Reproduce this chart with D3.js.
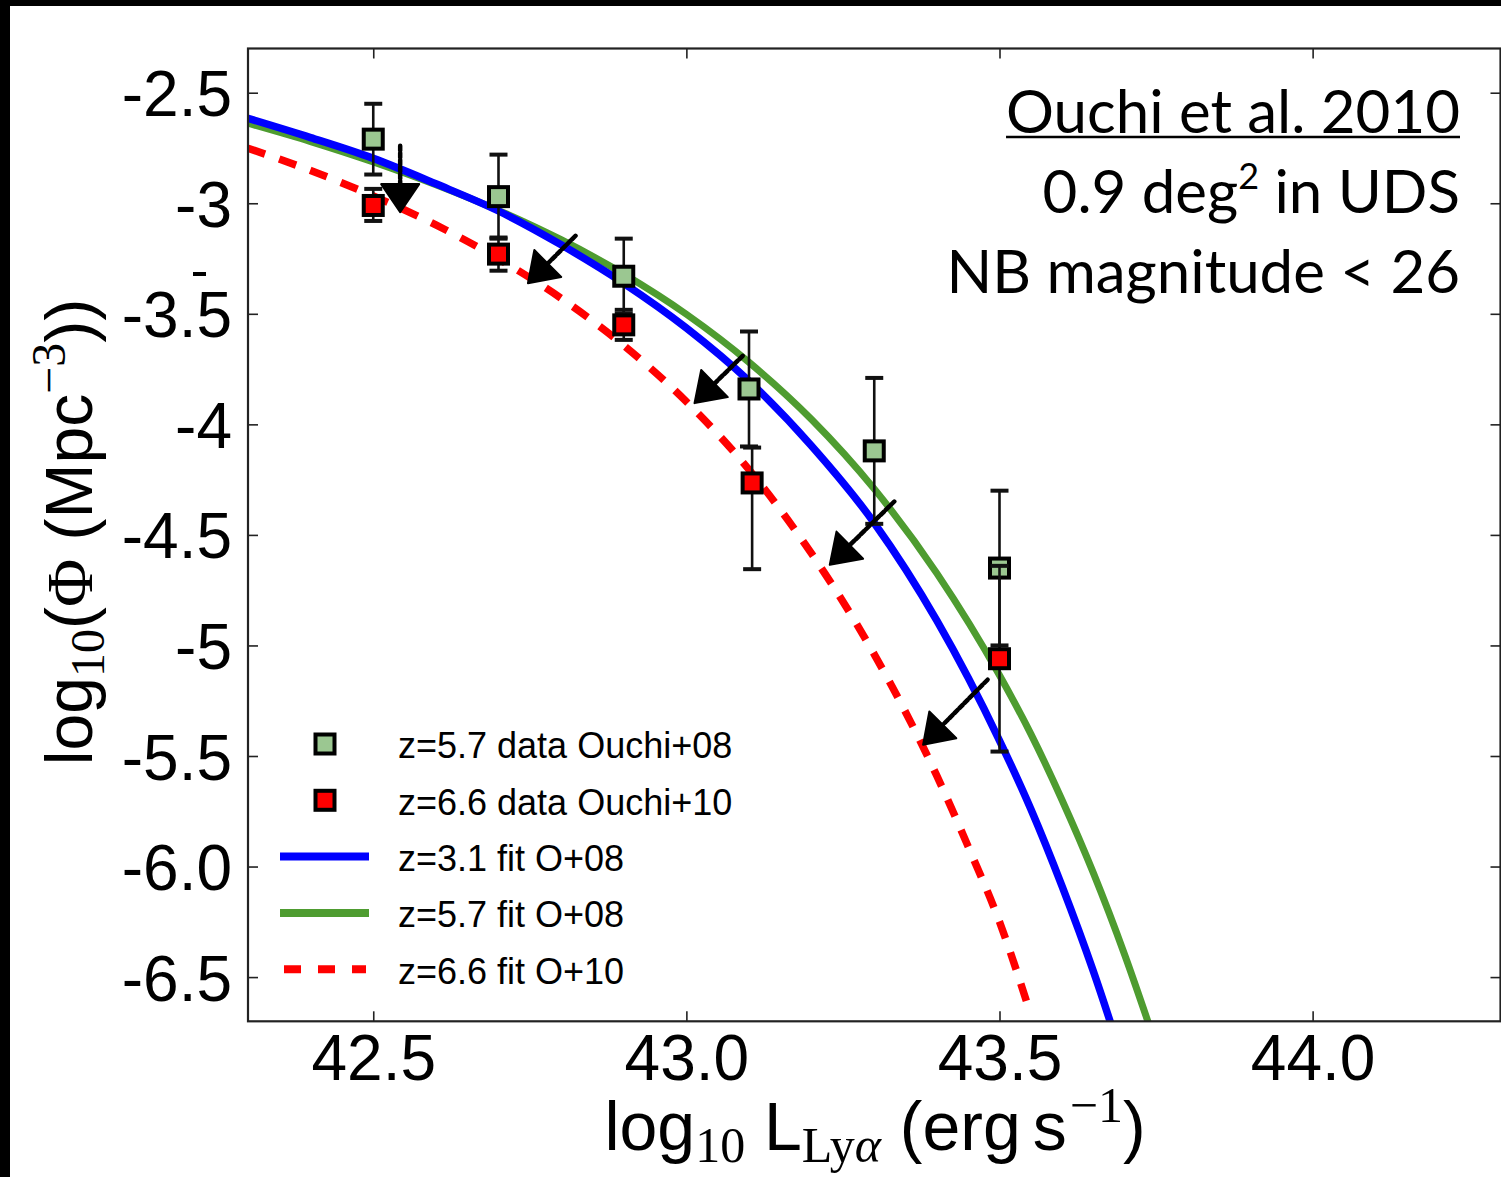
<!DOCTYPE html>
<html>
<head>
<meta charset="utf-8">
<script src="https://cdn.jsdelivr.net/npm/d3@7"></script>
<style>
  html, body { margin: 0; padding: 0; background: #ffffff; }
  svg { display: block; }
</style>
</head>
<body>
<svg id="chart" width="1501" height="1177"></svg>
<script>
// ---- Axis ticks ----
const xTicks = [42.5, 43.0, 43.5, 44.0];
const xTickLabels = ["42.5", "43.0", "43.5", "44.0"];
const yTicks = [-2.5, -3, -3.5, -4, -4.5, -5, -5.5, -6, -6.5];
const yTickLabels = ["-2.5", "-3", "-3.5", "-4", "-4.5", "-5", "-5.5", "-6.0", "-6.5"];

// ---- Schechter fit curves (log10 L, log10 Phi) ----
const fitZ31X = [42.30, 42.40, 42.50, 42.60, 42.70, 42.80, 42.90, 43.00, 43.10, 43.20, 43.30, 43.40, 43.50, 43.55, 43.60, 43.65, 43.70];
const fitZ31Y = [-2.616, -2.703, -2.797, -2.912, -3.035, -3.188, -3.362, -3.564, -3.804, -4.098, -4.446, -4.888, -5.430, -5.740, -6.090, -6.475, -6.905];

const fitZ57X = [42.30, 42.40, 42.50, 42.60, 42.70, 42.80, 42.90, 43.00, 43.10, 43.20, 43.30, 43.40, 43.50, 43.55, 43.60, 43.65, 43.70, 43.75];
const fitZ57Y = [-2.638, -2.721, -2.813, -2.916, -3.032, -3.165, -3.320, -3.502, -3.719, -3.978, -4.292, -4.674, -5.135, -5.400, -5.700, -6.030, -6.400, -6.810];

const fitZ66X = [42.30, 42.40, 42.50, 42.60, 42.70, 42.80, 42.90, 43.00, 43.10, 43.20, 43.30, 43.40, 43.45, 43.50, 43.55];
const fitZ66Y = [-2.751, -2.852, -2.967, -3.098, -3.251, -3.430, -3.643, -3.897, -4.205, -4.585, -5.040, -5.590, -5.910, -6.250, -6.670];

// ---- Measured luminosity functions ----
const lumZ57 = [42.5, 42.7, 42.9, 43.1, 43.3, 43.5];
const phiZ57 = [-2.71, -2.97, -3.33, -3.84, -4.12, -4.65];
const errZ57Hi = [0.16, 0.19, 0.17, 0.26, 0.33, 0.35];
const errZ57Lo = [0.16, 0.19, 0.17, 0.26, 0.33, 0.35];

const lumZ66 = [42.5, 42.7, 42.9, 43.105, 43.5];
const phiZ66 = [-3.01, -3.23, -3.55, -4.265, -5.06];
const errZ66Hi = [0.075, 0.075, 0.068, 0.16, 0.42];
const errZ66Lo = [0.070, 0.075, 0.068, 0.39, 0.42];

// ---- Evolution arrows: from z=5.7 towards z=6.6 (log L, log Phi) ----
const arrowFrom = [[42.543, -2.740], [42.823, -3.147], [43.090, -3.690], [43.332, -4.349], [43.481, -5.155]];
const arrowTo   = [[42.543, -3.040], [42.747, -3.362], [43.013, -3.904], [43.229, -4.635], [43.378, -5.449]];

// ---- Legend ----
const legendLabels = ["z=5.7 data Ouchi+08", "z=6.6 data Ouchi+10", "z=3.1 fit O+08", "z=5.7 fit O+08", "z=6.6 fit O+10"];
const legendKinds = ["square", "square", "line", "line", "line"];

// ---- Styles ----
const BLUE = "#0000ff", GREEN = "#4e9c30", RED = "#ff0000", LIGHTGREEN = "#9bc791";
const SANS = "'Liberation Sans', Arial, Helvetica, sans-serif";
const SERIF = "'Liberation Serif', 'DejaVu Serif', serif";
const NOTE = "Lato, 'Open Sans', sans-serif";

const svg = d3.select("#chart");
svg.append("rect").attr("width", 1501).attr("height", 1177).attr("fill", "#ffffff");

// black frame on the top and left edges
svg.append("rect").attr("x", 0).attr("y", 0).attr("width", 1501).attr("height", 6).attr("fill", "#000");
svg.append("rect").attr("x", 0).attr("y", 0).attr("width", 10).attr("height", 1177).attr("fill", "#000");

const x = d3.scaleLinear().domain([42.3, 44.3]).range([248, 1500.5]);
const y = d3.scaleLinear().domain([-6.7, -2.3]).range([1021.3, 48.5]);

const [x0, x1] = x.range();
const [y0, y1] = y.range();

svg.append("clipPath").attr("id", "plotClip")
  .append("rect").attr("x", x0).attr("y", y1).attr("width", x1 - x0).attr("height", y0 - y1);

// ---- Axes (ticks point inward on all four sides) ----
const axisColor = "#222";
const gx = svg.append("g").attr("transform", `translate(0,${y0})`)
  .call(d3.axisBottom(x).tickValues(xTicks).tickFormat((d, i) => xTickLabels[i]).tickSizeInner(-10).tickSizeOuter(0));
gx.selectAll("text").attr("y", 59).attr("dy", 0)
  .attr("font-family", SANS).attr("font-size", 64).attr("fill", "#000");

const gxTop = svg.append("g").attr("transform", `translate(0,${y1})`)
  .call(d3.axisTop(x).tickValues(xTicks).tickFormat("").tickSizeInner(-10).tickSizeOuter(0));

const gy = svg.append("g").attr("transform", `translate(${x0},0)`)
  .call(d3.axisLeft(y).tickValues(yTicks).tickFormat((d, i) => yTickLabels[i]).tickSizeInner(-10).tickSizeOuter(0).tickPadding(16));
gy.selectAll("text").attr("dy", "0.36em")
  .attr("font-family", SANS).attr("font-size", 64).attr("fill", "#000");

const gyRight = svg.append("g").attr("transform", `translate(${x1},0)`)
  .call(d3.axisRight(y).tickValues(yTicks).tickFormat("").tickSizeInner(-10).tickSizeOuter(0));

[gx, gxTop, gy, gyRight].forEach(g => {
  g.select(".domain").remove();
  g.selectAll(".tick line").attr("stroke", axisColor).attr("stroke-width", 1.6);
});

// ---- Fit curves (z=5.7 underneath z=3.1) ----
const curves = svg.append("g").attr("clip-path", "url(#plotClip)");
const line = d3.line().x(d => x(d[0])).y(d => y(d[1])).curve(d3.curveMonotoneX);
const zip = (a, b) => a.map((v, i) => [v, b[i]]);

curves.append("path").datum(zip(fitZ57X, fitZ57Y)).attr("d", line)
  .attr("fill", "none").attr("stroke", GREEN).attr("stroke-width", 7);
curves.append("path").datum(zip(fitZ31X, fitZ31Y)).attr("d", line)
  .attr("fill", "none").attr("stroke", BLUE).attr("stroke-width", 7.5);
curves.append("path").datum(zip(fitZ66X, fitZ66Y)).attr("d", line)
  .attr("fill", "none").attr("stroke", RED).attr("stroke-width", 7.5)
  .attr("stroke-dasharray", "18,15");

// ---- Data points with error bars ----
const MS = 19, CAP = 9;
function drawSeries(lum, phi, hi, lo, fill) {
  const g = svg.append("g");
  lum.forEach((L, i) => {
    const cx = x(L);
    const yTop = y(phi[i] + hi[i]), yBot = y(phi[i] - lo[i]);
    g.append("line").attr("x1", cx).attr("x2", cx).attr("y1", yTop).attr("y2", yBot)
      .attr("stroke", "#111").attr("stroke-width", 2.6);
    [yTop, yBot].forEach(yy => {
      g.append("line").attr("x1", cx - CAP).attr("x2", cx + CAP).attr("y1", yy).attr("y2", yy)
        .attr("stroke", "#111").attr("stroke-width", 4);
    });
  });
  lum.forEach((L, i) => {
    g.append("rect").attr("x", x(L) - MS / 2).attr("y", y(phi[i]) - MS / 2)
      .attr("width", MS).attr("height", MS)
      .attr("fill", fill).attr("stroke", "#000").attr("stroke-width", 4);
  });
}
drawSeries(lumZ57, phiZ57, errZ57Hi, errZ57Lo, LIGHTGREEN);
drawSeries(lumZ66, phiZ66, errZ66Hi, errZ66Lo, RED);

// ---- Arrows ----
const arrows = svg.append("g");
arrowFrom.forEach((p, i) => {
  const sx = x(p[0]), sy = y(p[1]);
  const tx = x(arrowTo[i][0]), ty = y(arrowTo[i][1]);
  const dx = tx - sx, dy = ty - sy, len = Math.hypot(dx, dy);
  const ux = dx / len, uy = dy / len;
  const headLen = 28, headHalf = 19;
  const bx = tx - ux * headLen, by = ty - uy * headLen;
  arrows.append("line").attr("x1", sx).attr("y1", sy).attr("x2", bx).attr("y2", by)
    .attr("stroke", "#000").attr("stroke-width", 4.5)
    .attr("stroke-dasharray", "5,2").attr("stroke-linecap", "round");
  const pts = [[tx, ty], [bx - uy * headHalf, by + ux * headHalf], [bx + uy * headHalf, by - ux * headHalf]];
  arrows.append("path").attr("d", "M" + pts.map(q => q.join(",")).join("L") + "Z")
    .attr("fill", "#000").attr("stroke", "#000").attr("stroke-width", 2).attr("stroke-linejoin", "round");
});

// ---- Plot frame ----
svg.append("rect").attr("x", x0).attr("y", y1).attr("width", x1 - x0).attr("height", y0 - y1)
  .attr("fill", "none").attr("stroke", axisColor).attr("stroke-width", 2.2);

// ---- Legend ----
const leg = svg.append("g");
const legTop = 744, legStep = 56.3;
legendLabels.forEach((lab, i) => {
  const cy = legTop + i * legStep;
  if (legendKinds[i] === "square") {
    leg.append("rect").attr("x", 325 - MS / 2).attr("y", cy - MS / 2).attr("width", MS).attr("height", MS)
      .attr("fill", i === 0 ? LIGHTGREEN : RED).attr("stroke", "#000").attr("stroke-width", 4);
  } else {
    const col = [null, null, BLUE, GREEN, RED][i];
    const l = leg.append("line").attr("x1", 280).attr("x2", 369).attr("y1", cy).attr("y2", cy)
      .attr("stroke", col).attr("stroke-width", 8);
    if (i === 4) l.attr("x1", 284).attr("x2", 366).attr("stroke-dasharray", "17,17");
  }
  leg.append("text").attr("x", 398).attr("y", cy + 14.3)
    .attr("font-family", SANS).attr("font-size", 36).attr("fill", "#000").text(lab);
});

// ---- Axis labels ----
const xl = svg.append("text").attr("x", 875).attr("y", 1150).attr("text-anchor", "middle")
  .attr("font-family", SANS).attr("font-size", 68).attr("fill", "#000");
xl.append("tspan").text("log");
xl.append("tspan").attr("font-family", SERIF).attr("font-size", 50).attr("dy", 12).text("10");
xl.append("tspan").attr("dy", -12).text(" L");
xl.append("tspan").attr("font-family", SERIF).attr("font-size", 50).attr("dy", 12).text("Ly");
xl.append("tspan").attr("font-family", SERIF).attr("font-style", "italic").attr("font-size", 50).text("α");
xl.append("tspan").attr("dy", -12).text(" (erg");
xl.append("tspan").attr("dx", 12).text("s");
xl.append("tspan").attr("font-family", SERIF).attr("font-size", 50).attr("dx", 3).attr("dy", -28).text("−1");
xl.append("tspan").attr("dy", 28).text(")");

const yl = svg.append("text").attr("transform", "translate(92,532) rotate(-90)").attr("text-anchor", "middle")
  .attr("font-family", SANS).attr("font-size", 66).attr("fill", "#000");
yl.append("tspan").text("log");
yl.append("tspan").attr("font-family", SERIF).attr("font-size", 48).attr("dy", 12).text("10");
yl.append("tspan").attr("dy", -12).text("(");
yl.append("tspan").attr("font-family", SERIF).text("Φ");
yl.append("tspan").text(" (Mpc");
yl.append("tspan").attr("font-family", SERIF).attr("font-size", 48).attr("dy", -27).text("−3");
yl.append("tspan").attr("dy", 27).text("))");

// small stray dash left of the y tick labels
svg.append("line").attr("x1", 193).attr("x2", 206).attr("y1", 274).attr("y2", 274)
  .attr("stroke", "#000").attr("stroke-width", 4);

// ---- Survey note, top right ----
const note = svg.append("g").attr("font-family", NOTE).attr("font-size", 60).attr("fill", "#000").attr("text-anchor", "end");
const n1 = note.append("text").attr("x", 1460).attr("y", 133).text("Ouchi et al. 2010");
const bb = n1.node().getBBox();
note.append("line").attr("x1", bb.x).attr("x2", bb.x + bb.width).attr("y1", 137).attr("y2", 137)
  .attr("stroke", "#000").attr("stroke-width", 2.5);
const n2 = note.append("text").attr("x", 1460).attr("y", 213);
n2.append("tspan").text("0.9 deg");
n2.append("tspan").attr("font-size", 36).attr("dy", -24).text("2");
n2.append("tspan").attr("dy", 24).text(" in UDS");
note.append("text").attr("x", 1460).attr("y", 293).text("NB magnitude < 26");
</script>
</body>
</html>
